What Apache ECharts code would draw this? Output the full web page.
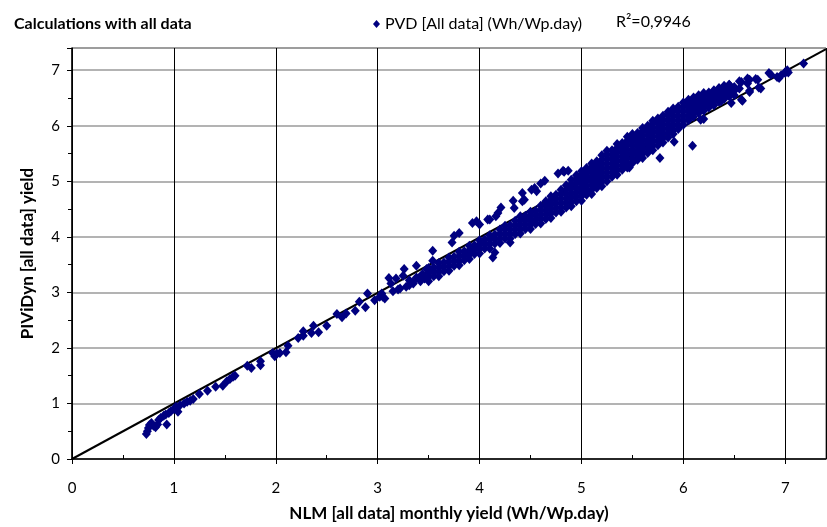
<!DOCTYPE html>
<html>
<head>
  <meta charset="UTF-8">
  <title>Calculations with all data</title>
  <style>
    html, body { margin: 0; padding: 0; background: #fff; }
    #main { width: 827px; height: 527px; }
  </style>
</head>
<body>
  <div id="main"></div>
  <script src="https://cdn.jsdelivr.net/npm/echarts@6/dist/echarts.min.js"></script>
  <script>
    // sparse points below the dense cloud (NLM, PIViDyn)
    const lowPoints = [
      [0.73, 0.45], [0.74, 0.50], [0.75, 0.56], [0.76, 0.61], [0.78, 0.65], [0.80, 0.60],
      [0.82, 0.57], [0.84, 0.62], [0.85, 0.70], [0.87, 0.74], [0.90, 0.78], [0.93, 0.62],
      [0.92, 0.80], [0.95, 0.83], [0.97, 0.86], [1.00, 0.90], [1.02, 0.94], [1.04, 0.85],
      [1.06, 0.97], [1.10, 1.00], [1.13, 1.03], [1.16, 1.05], [1.19, 1.08], [1.25, 1.17],
      [1.33, 1.23], [1.41, 1.30], [1.48, 1.32], [1.52, 1.40], [1.55, 1.44], [1.58, 1.48],
      [1.60, 1.50], [1.72, 1.68], [1.76, 1.64], [1.85, 1.76], [1.85, 1.69], [1.97, 1.91],
      [1.99, 1.85], [2.01, 1.90], [2.04, 1.91], [2.10, 1.92], [2.12, 2.04], [2.22, 2.18],
      [2.27, 2.22], [2.27, 2.30], [2.35, 2.27], [2.37, 2.40], [2.42, 2.28], [2.50, 2.40],
      [2.60, 2.61], [2.65, 2.55], [2.69, 2.62], [2.78, 2.67], [2.82, 2.83], [2.88, 2.73],
      [2.90, 2.98], [2.97, 2.86], [3.02, 2.92], [3.05, 2.92], [3.07, 2.89], [3.04, 2.98],
      [3.11, 3.26], [3.13, 3.16], [3.18, 3.25], [3.22, 3.07], [3.26, 3.42], [3.25, 3.30],
      [3.31, 3.13], [3.31, 3.22], [3.34, 3.18], [3.38, 3.48], [3.38, 3.27], [3.41, 3.27],
      [3.44, 3.33], [3.48, 3.42], [3.15, 3.02], [3.20, 3.05], [3.28, 3.10], [3.35, 3.16],
      [3.42, 3.20], [3.46, 3.25]
    ];

    // dense band, read column by column: x and the y values seen in that column
    const bandX = [
      3.50, 3.55, 3.60, 3.65, 3.70, 3.75, 3.80, 3.85, 3.90, 3.95,
      4.00, 4.05, 4.10, 4.15, 4.20, 4.25, 4.30, 4.35, 4.40, 4.45,
      4.50, 4.55, 4.60, 4.65, 4.70, 4.75, 4.80, 4.85, 4.90, 4.95,
      5.00, 5.05, 5.10, 5.15, 5.20, 5.25, 5.30, 5.35, 5.40, 5.45,
      5.50, 5.55, 5.60, 5.65, 5.70, 5.75, 5.80, 5.85, 5.90, 5.95,
      6.00, 6.05, 6.10, 6.15, 6.20, 6.25, 6.30, 6.35, 6.40, 6.45
    ];
    const bandY = [
      [3.20, 3.28, 3.36, 3.44], [3.29, 3.37, 3.45], [3.29, 3.37, 3.45, 3.53], [3.38, 3.46, 3.54],
      [3.39, 3.47, 3.55, 3.63], [3.48, 3.56, 3.64], [3.49, 3.57, 3.65, 3.73], [3.58, 3.66, 3.74],
      [3.60, 3.68, 3.76, 3.84], [3.69, 3.77, 3.85],
      [3.70, 3.78, 3.86, 3.94], [3.79, 3.87, 3.95], [3.79, 3.87, 3.95, 4.03], [3.88, 3.96, 4.04],
      [3.89, 3.97, 4.05, 4.13], [3.97, 4.05, 4.13, 4.20], [3.97, 4.05, 4.13, 4.21],
      [4.05, 4.13, 4.21, 4.29], [4.06, 4.14, 4.22, 4.30, 4.37], [4.14, 4.22, 4.30, 4.38],
      [4.14, 4.22, 4.30, 4.38, 4.45], [4.23, 4.31, 4.39, 4.47], [4.24, 4.32, 4.40, 4.48, 4.56],
      [4.32, 4.40, 4.48, 4.56, 4.64], [4.34, 4.42, 4.50, 4.58, 4.66, 4.73],
      [4.44, 4.52, 4.60, 4.68, 4.76], [4.45, 4.53, 4.61, 4.69, 4.77, 4.85],
      [4.53, 4.61, 4.69, 4.77, 4.85, 4.93], [4.55, 4.63, 4.71, 4.79, 4.87, 4.95, 5.03],
      [4.64, 4.72, 4.80, 4.88, 4.96, 5.04, 5.11],
      [4.65, 4.73, 4.81, 4.89, 4.97, 5.05, 5.12, 5.18], [4.76, 4.84, 4.92, 5.00, 5.08, 5.16, 5.24],
      [4.77, 4.85, 4.93, 5.01, 5.09, 5.17, 5.25, 5.32], [4.88, 4.96, 5.04, 5.12, 5.20, 5.28, 5.36],
      [4.91, 4.99, 5.07, 5.15, 5.23, 5.31, 5.39, 5.47], [5.00, 5.08, 5.16, 5.24, 5.32, 5.40, 5.48, 5.55],
      [5.08, 5.16, 5.24, 5.32, 5.40, 5.48, 5.56], [5.12, 5.20, 5.28, 5.36, 5.44, 5.52, 5.60, 5.67],
      [5.21, 5.29, 5.37, 5.45, 5.53, 5.61, 5.69], [5.25, 5.33, 5.41, 5.49, 5.57, 5.65, 5.73, 5.80],
      [5.33, 5.41, 5.49, 5.57, 5.65, 5.73, 5.80, 5.85], [5.39, 5.47, 5.55, 5.63, 5.71, 5.79, 5.87],
      [5.42, 5.50, 5.58, 5.66, 5.74, 5.82, 5.90, 5.96], [5.51, 5.59, 5.67, 5.75, 5.83, 5.91, 6.00],
      [5.56, 5.64, 5.72, 5.80, 5.88, 5.96, 6.04, 6.09], [5.65, 5.73, 5.81, 5.89, 5.97, 6.05, 6.13],
      [5.70, 5.78, 5.86, 5.94, 6.02, 6.10, 6.18], [5.79, 5.87, 5.95, 6.03, 6.11, 6.19, 6.25],
      [5.85, 5.93, 6.01, 6.09, 6.17, 6.25, 6.31], [5.94, 6.02, 6.10, 6.18, 6.26, 6.34],
      [6.02, 6.10, 6.18, 6.26, 6.34, 6.42], [6.10, 6.18, 6.26, 6.34, 6.41, 6.47],
      [6.16, 6.24, 6.32, 6.40, 6.47, 6.51], [6.23, 6.30, 6.37, 6.44, 6.51, 6.55],
      [6.27, 6.34, 6.41, 6.48, 6.55, 6.59], [6.33, 6.40, 6.47, 6.54, 6.60],
      [6.37, 6.44, 6.51, 6.58, 6.64], [6.43, 6.50, 6.57, 6.63, 6.68],
      [6.48, 6.55, 6.62, 6.68, 6.72], [6.53, 6.60, 6.67, 6.74]
    ];

    // scattered points around the band and at the top end
    const outlierPoints = [
      [3.54, 3.75], [3.54, 3.57], [3.73, 3.90], [3.75, 4.02], [3.80, 4.07], [3.93, 4.25],
      [3.97, 4.28], [4.00, 4.22], [4.08, 4.31], [4.10, 4.31], [4.16, 4.37], [4.18, 4.43],
      [4.21, 4.53], [4.33, 4.65], [4.34, 4.52], [4.42, 4.79], [4.44, 4.67], [4.42, 4.64],
      [4.51, 4.85], [4.54, 4.88], [4.56, 4.82], [4.60, 4.96], [4.64, 5.01], [4.77, 5.14],
      [4.82, 5.19], [4.83, 5.17], [4.87, 5.19], [4.30, 3.90], [4.13, 3.63], [4.15, 3.72],
      [5.47, 5.25], [5.77, 5.42], [5.91, 5.71], [6.09, 5.64], [6.17, 6.11], [6.20, 6.12],
      [6.37, 6.44], [6.47, 6.41], [6.57, 6.47], [6.58, 6.45],
      [6.39, 6.60], [6.30, 6.53], [6.47, 6.67], [6.50, 6.55], [6.50, 6.63], [6.50, 6.70],
      [6.45, 6.74], [6.55, 6.80], [6.55, 6.67], [6.57, 6.79], [6.63, 6.85], [6.63, 6.76],
      [6.65, 6.83], [6.65, 6.61], [6.65, 6.63], [6.71, 6.84], [6.73, 6.83], [6.74, 6.69],
      [6.76, 6.67], [6.84, 6.95], [6.86, 6.92], [6.92, 6.88], [6.94, 6.86], [6.96, 6.91],
      [7.00, 6.97], [7.00, 6.95], [7.02, 7.00], [7.03, 6.96], [7.18, 7.12]
    ];

    // linear trend line (R² = 0,9946)
    const trendX = [0, 7.4];
    const trendY = [0, 7.38];

    const xTicks = [0, 1, 2, 3, 4, 5, 6, 7];

    const points = lowPoints.slice();
    bandX.forEach(function (x, i) {
      bandY[i].forEach(function (y) { points.push([x, y]); });
    });
    outlierPoints.forEach(function (p) { points.push(p); });

    const trend = trendX.map(function (x, i) { return [x, trendY[i]]; });

    const font = 'Lato, "Open Sans", sans-serif';

    const chart = echarts.init(document.getElementById('main'));

    chart.setOption({
      animation: false,
      textStyle: { fontFamily: font },
      title: {
        text: 'Calculations with all data',
        left: 9,
        top: 11,
        textStyle: { fontSize: 16, fontWeight: 'bold', color: '#000', fontFamily: font }
      },
      legend: {
        data: [{ name: 'PVD [All data] (Wh/Wp.day)', icon: 'diamond' }],
        left: 368,
        top: 11,
        itemWidth: 7,
        itemHeight: 8,
        itemGap: 4,
        textStyle: { fontSize: 16, color: '#000', fontFamily: font }
      },
      graphic: [{
        type: 'text',
        left: 616,
        top: 14,
        style: { text: 'R²=0,9946', fontSize: 16, fill: '#000', fontFamily: font }
      }],
      grid: {
        left: 72,
        right: 1,
        top: 48,
        bottom: 63,
        show: true,
        borderColor: '#555',
        borderWidth: 1
      },
      xAxis: [{
        type: 'value',
        min: 0,
        max: 7.4,
        interval: 1,
        name: 'NLM [all data] monthly yield (Wh/Wp.day)',
        nameLocation: 'middle',
        nameGap: 46,
        nameTextStyle: { fontSize: 17, fontWeight: 'bold', color: '#000', fontFamily: font },
        axisLine: { show: true, onZero: false, lineStyle: { color: '#000', width: 1.5 } },
        axisTick: { show: true, inside: false, length: 5, lineStyle: { color: '#000' } },
        axisLabel: {
          fontSize: 15, color: '#000', margin: 22, showMaxLabel: false,
          formatter: function (v) { return xTicks.indexOf(v) >= 0 ? String(v) : ''; }
        },
        splitLine: { show: true, lineStyle: { color: '#000', width: 1 } }
      }, {
        type: 'value',
        min: 0,
        max: 7.4,
        interval: 0.5,
        position: 'bottom',
        axisLine: { show: false },
        axisTick: { show: true, inside: true, length: 4, lineStyle: { color: '#000' } },
        axisLabel: { show: false },
        splitLine: { show: false }
      }],
      yAxis: {
        type: 'value',
        min: 0,
        max: 7.4,
        interval: 1,
        name: 'PIViDyn [all data] yield',
        nameLocation: 'middle',
        nameGap: 36,
        nameTextStyle: { fontSize: 17, fontWeight: 'bold', color: '#000', fontFamily: font },
        axisLine: { show: true, onZero: false, lineStyle: { color: '#000', width: 1.5 } },
        axisTick: { show: true, length: 5, lineStyle: { color: '#000' } },
        minorTick: { show: true, splitNumber: 2, length: 4, lineStyle: { color: '#000' } },
        axisLabel: { fontSize: 15, color: '#000', margin: 12, showMaxLabel: false },
        splitLine: { show: true, lineStyle: { color: '#9a9a9a', width: 1.5 } }
      },
      series: [{
        name: 'trend',
        type: 'line',
        data: trend,
        symbol: 'none',
        silent: true,
        z: 1,
        lineStyle: { color: '#000', width: 2 }
      }, {
        name: 'PVD [All data] (Wh/Wp.day)',
        type: 'scatter',
        data: points,
        symbol: 'diamond',
        symbolSize: [9, 10],
        z: 3,
        itemStyle: { color: '#000080', opacity: 1 }
      }]
    });
  </script>
</body>
</html>
